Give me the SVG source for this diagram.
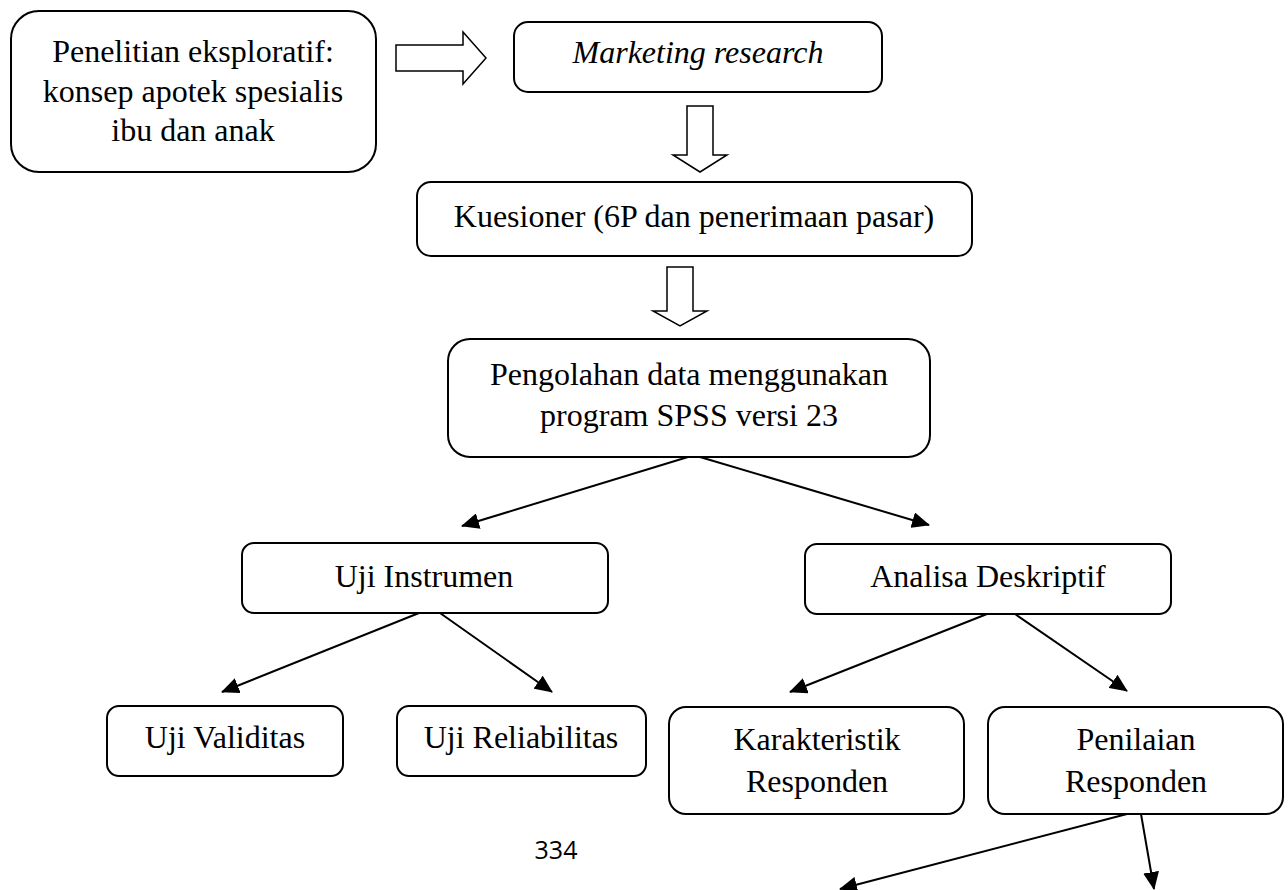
<svg xmlns="http://www.w3.org/2000/svg" width="1288" height="890" viewBox="0 0 1288 890">
<style>
.box{fill:#fff;stroke:#000;stroke-width:2}
.t{font-family:"Liberation Serif","Times New Roman",serif;font-size:32px;fill:#000;text-anchor:middle}
.it{font-style:italic}
.c{fill:none;stroke:#000;stroke-width:2}
.blk{fill:#fff;stroke:#000;stroke-width:1.5}
.pg{font-family:"Open Sans","Liberation Sans",sans-serif;font-size:25px;fill:#000;text-anchor:middle}
</style>
<defs>
<marker id="ah" viewBox="0 0 18 16" refX="17" refY="8" markerWidth="18" markerHeight="16" markerUnits="userSpaceOnUse" orient="auto">
<path d="M0,0 L18,8 L0,16 z" fill="#000"/>
</marker>
</defs>
<rect width="1288" height="890" fill="#fff"/>
<g id="n1"><rect class="box" x="11" y="11" width="365" height="161" rx="28"/>
<text class="t" x="193" y="62">Penelitian eksploratif:</text>
<text class="t" x="193" y="102">konsep apotek spesialis</text>
<text class="t" x="193" y="141">ibu dan anak</text></g>
<g id="n2"><rect class="box" x="514" y="22" width="368" height="70" rx="14"/>
<text class="t it" x="698" y="63">Marketing research</text></g>
<g id="n3"><rect class="box" x="417" y="182" width="555" height="74" rx="14"/>
<text class="t" x="694" y="227">Kuesioner (6P dan penerimaan pasar)</text></g>
<g id="n4"><rect class="box" x="448" y="339" width="482" height="118" rx="22"/>
<text class="t" x="689" y="385">Pengolahan data menggunakan</text>
<text class="t" x="689" y="426">program SPSS versi 23</text></g>
<g id="n5"><rect class="box" x="242" y="543" width="366" height="70" rx="12"/>
<text class="t" x="424" y="587">Uji Instrumen</text></g>
<g id="n6"><rect class="box" x="805" y="544" width="366" height="70" rx="12"/>
<text class="t" x="988" y="587">Analisa Deskriptif</text></g>
<g id="n7"><rect class="box" x="107" y="706" width="236" height="70" rx="12"/>
<text class="t" x="225" y="748">Uji Validitas</text></g>
<g id="n8"><rect class="box" x="397" y="706" width="249" height="70" rx="12"/>
<text class="t" x="521" y="748">Uji Reliabilitas</text></g>
<g id="n9"><rect class="box" x="669" y="707" width="295" height="107" rx="17"/>
<text class="t" x="817" y="750">Karakteristik</text>
<text class="t" x="817" y="792">Responden</text></g>
<g id="n10"><rect class="box" x="988" y="707" width="295" height="107" rx="17"/>
<text class="t" x="1136" y="750">Penilaian</text>
<text class="t" x="1136" y="792">Responden</text></g>
<g id="connectors">
<polygon class="blk" points="396,45 463,45 463,32 486,58 463,84 463,71 396,71"/>
<polygon class="blk" points="687,106 713,106 713,155 727,155 700,172 673,155 687,155"/>
<polygon class="blk" points="667,267 693,267 693,311 707,311 680,326 653,311 667,311"/>
<line class="c" x1="688" y1="457" x2="462" y2="526" marker-end="url(#ah)"/>
<line class="c" x1="700" y1="457" x2="929" y2="525" marker-end="url(#ah)"/>
<line class="c" x1="419" y1="613" x2="222" y2="692" marker-end="url(#ah)"/>
<line class="c" x1="440" y1="613" x2="552" y2="692" marker-end="url(#ah)"/>
<line class="c" x1="987" y1="614" x2="790" y2="692" marker-end="url(#ah)"/>
<line class="c" x1="1015" y1="614" x2="1127" y2="691" marker-end="url(#ah)"/>
<line class="c" x1="1127" y1="814" x2="840" y2="889" marker-end="url(#ah)"/>
<line class="c" x1="1141" y1="814" x2="1154" y2="889" marker-end="url(#ah)"/>
</g>
<text class="pg" x="556" y="859">334</text>
</svg>
